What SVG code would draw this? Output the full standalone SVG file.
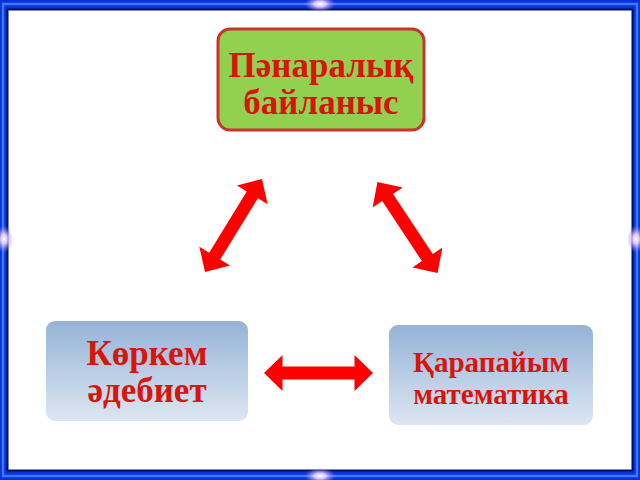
<svg xmlns="http://www.w3.org/2000/svg" width="640" height="480" viewBox="0 0 640 480">
<defs>
<style>
.t{font-family:"Liberation Serif","Times New Roman",serif;font-weight:bold;fill:#D8150C;text-anchor:middle}
.arr{fill:#FF0000}
</style>
<linearGradient id="bg" x1="0" y1="0" x2="0" y2="1">
<stop offset="0" stop-color="#95B3D7"/>
<stop offset="1" stop-color="#DDE6F2"/>
</linearGradient>
<radialGradient id="spark">
<stop offset="0" stop-color="#FFFFFF" stop-opacity="1"/>
<stop offset="0.35" stop-color="#E8D8FF" stop-opacity="0.9"/>
<stop offset="1" stop-color="#A070E0" stop-opacity="0"/>
</radialGradient>
<path id="dbl" d="M -54.5 0 L -36 -18 L -36 -6.5 L 36 -6.5 L 36 -18 L 54.5 0 L 36 18 L 36 6.5 L -36 6.5 L -36 18 Z"/>
</defs>
<g id="frame">
<rect x="0" y="0" width="640" height="480" fill="#0A30D8"/>
<rect x="3" y="4" width="634" height="472" fill="none" stroke="#3C78FF" stroke-width="2.5"/>
<rect x="7.5" y="9.5" width="625" height="461" fill="#FFFFFF" stroke="#001060" stroke-width="2"/>
<ellipse cx="320" cy="4" rx="16" ry="8" fill="url(#spark)"/>
<ellipse cx="320" cy="476" rx="16" ry="8" fill="url(#spark)"/>
<ellipse cx="4" cy="239" rx="9" ry="14" fill="url(#spark)"/>
<ellipse cx="636" cy="239" rx="9" ry="14" fill="url(#spark)"/>
</g>
<g id="connectors">
<use href="#dbl" class="arr" transform="translate(233.5,225.5) rotate(-58.5)"/>
<use href="#dbl" class="arr" transform="translate(407.5,227.5) rotate(56.5)"/>
<use href="#dbl" class="arr" transform="translate(318.5,373)"/>
</g>
<g id="node-top">
<rect x="218" y="29" width="206" height="101" rx="12" fill="#92D050" stroke="#C8352A" stroke-width="3"/>
<text class="t" x="321" y="77" font-size="35">Пәнаралық</text>
<text class="t" x="321" y="114" font-size="35">байланыс</text>
</g>
<g id="node-left">
<rect x="46" y="321" width="202" height="100" rx="9" fill="url(#bg)"/>
<text class="t" x="147" y="365" font-size="35">Көркем</text>
<text class="t" x="147" y="402" font-size="35">әдебиет</text>
</g>
<g id="node-right">
<rect x="389" y="325" width="204" height="100" rx="9" fill="url(#bg)"/>
<text class="t" x="491" y="372" font-size="29">Қарапайым</text>
<text class="t" x="491" y="404" font-size="29">математика</text>
</g>
</svg>
